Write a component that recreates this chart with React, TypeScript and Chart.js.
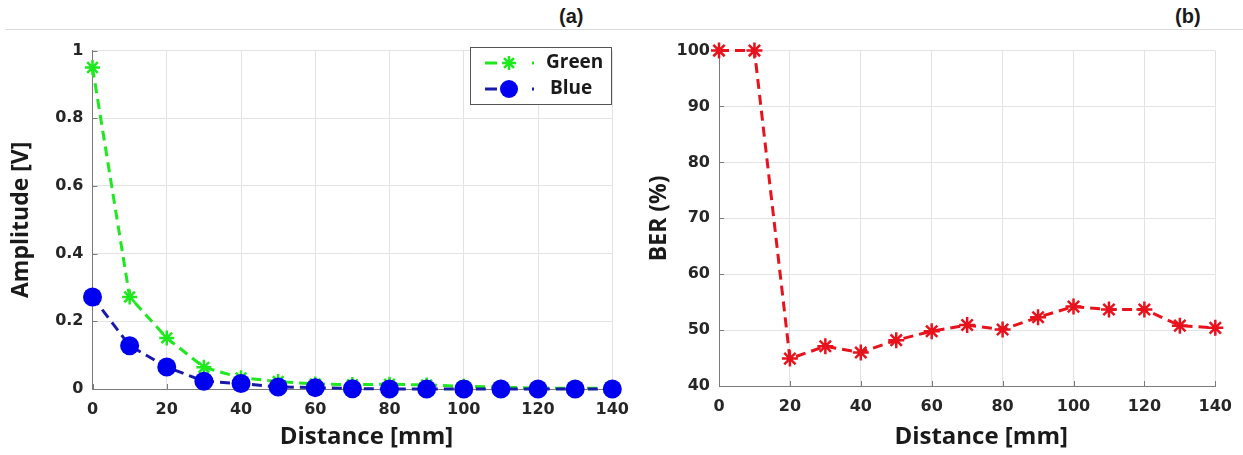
import React, { useEffect, useRef } from 'react';
import { Chart, registerables } from 'chart.js';

Chart.register(...registerables);

// ---- data ----
const distances = [0, 10, 20, 30, 40, 50, 60, 70, 80, 90, 100, 110, 120, 130, 140];
const greenAmp = [0.95, 0.272, 0.151, 0.064, 0.033, 0.022, 0.015, 0.013, 0.014, 0.012, 0.008, 0.005, 0.003, 0.002, 0.002];
const blueAmp = [0.272, 0.128, 0.065, 0.023, 0.016, 0.006, 0.004, 0.001, 0.0, 0.0, 0.0, 0.0, 0.0, 0.0, 0.0];
const berValues = [100, 100, 44.9, 47.1, 46.0, 48.2, 49.8, 50.9, 50.1, 52.3, 54.2, 53.7, 53.7, 50.8, 50.4];
const distanceTicks = [0, 20, 40, 60, 80, 100, 120, 140];
const ampTicks = [0, 0.2, 0.4, 0.6, 0.8, 1];
const berTicks = [40, 50, 60, 70, 80, 90, 100];
const legendLabels = ['Green', 'Blue'];
const xTitle = 'Distance [mm]';

const GREEN = '#1ee81e';
const BLUE_PT = '#0000f0';
const BLUE_LN = '#1a1aa8';
const RED = '#e8121c';
const TICK_FONT = { family: '"DejaVu Sans", sans-serif', size: 16, weight: 'bold' as const };
const TITLE_FONT = { family: '"Open Sans", sans-serif', size: 23, weight: 'bold' as const };

function drawStar(ctx: CanvasRenderingContext2D, x: number, y: number, r: number, color: string, lw: number) {
  ctx.save();
  ctx.strokeStyle = color;
  ctx.lineWidth = lw;
  ctx.setLineDash([]);
  ctx.beginPath();
  for (let i = 0; i < 4; i++) {
    const a = (i * Math.PI) / 4;
    ctx.moveTo(x - r * Math.cos(a), y - r * Math.sin(a));
    ctx.lineTo(x + r * Math.cos(a), y + r * Math.sin(a));
  }
  ctx.stroke();
  ctx.restore();
}

const innerTicks = {
  id: 'innerTicks',
  beforeDatasetsDraw(chart: any) {
    const ctx = chart.ctx;
    const xs = chart.scales.x;
    const ys = chart.scales.y;
    const { left, bottom } = chart.chartArea;
    ctx.save();
    ctx.strokeStyle = '#7a7a7a';
    ctx.lineWidth = 1;
    ctx.beginPath();
    xs.ticks.forEach((t: any) => {
      const px = Math.round(xs.getPixelForValue(t.value)) + 0.5;
      ctx.moveTo(px, bottom);
      ctx.lineTo(px, bottom - 5);
    });
    ys.ticks.forEach((t: any) => {
      const py = Math.round(ys.getPixelForValue(t.value)) + 0.5;
      ctx.moveTo(left, py);
      ctx.lineTo(left + 5, py);
    });
    ctx.stroke();
    ctx.restore();
  },
};

// x-axis title, drawn slightly right of the plot centre as in the original figure
const xTitlePlugin = {
  id: 'xTitle',
  afterDraw(chart: any) {
    const ctx = chart.ctx as CanvasRenderingContext2D;
    const { left, right } = chart.chartArea;
    ctx.save();
    ctx.fillStyle = '#1a1a1a';
    ctx.font = 'bold 24px "Open Sans", sans-serif';
    ctx.textAlign = 'center';
    ctx.textBaseline = 'middle';
    ctx.fillText(xTitle, (left + right) / 2 + 14, chart.height - 18);
    ctx.restore();
  },
};

const ampLegend = {
  id: 'ampLegend',
  afterDraw(chart: any) {
    const ctx = chart.ctx as CanvasRenderingContext2D;
    ctx.save();
    const bx = 470.5, by = 15.5, bw = 141, bh = 57;
    ctx.fillStyle = '#ffffff';
    ctx.fillRect(bx, by, bw, bh);
    ctx.strokeStyle = '#555555';
    ctx.lineWidth = 1;
    ctx.strokeRect(bx, by, bw, bh);
    const rows = [
      { y: 31, line: GREEN, text: legendLabels[0], tx: 546 },
      { y: 57, line: BLUE_LN, text: legendLabels[1], tx: 550 },
    ];
    rows.forEach((r, i) => {
      ctx.strokeStyle = r.line;
      ctx.lineWidth = 3;
      ctx.beginPath();
      ctx.moveTo(485, r.y);
      ctx.lineTo(497, r.y);
      ctx.moveTo(532, r.y);
      ctx.lineTo(534, r.y);
      ctx.stroke();
      if (i === 0) {
        drawStar(ctx, 509, r.y, 7, GREEN, 2.5);
      } else {
        ctx.fillStyle = BLUE_PT;
        ctx.beginPath();
        ctx.arc(509, r.y, 9, 0, Math.PI * 2);
        ctx.fill();
      }
      ctx.fillStyle = '#1a1a1a';
      ctx.font = 'bold 19px "Open Sans", sans-serif';
      ctx.textBaseline = 'middle';
      ctx.textAlign = 'left';
      ctx.fillText(r.text, r.tx, r.y);
    });
    ctx.restore();
  },
};

function axisOpts(opts: {
  ticks: number[];
  min: number;
  max: number;
  title: string | null;
  fit: number;
  titlePad: any;
  tickPad: number;
}) {
  return {
    type: 'linear' as const,
    min: opts.min,
    max: opts.max,
    afterBuildTicks: (s: any) => {
      s.ticks = opts.ticks.map((v) => ({ value: v }));
    },
    afterFit: (s: any) => {
      if (s.isHorizontal()) s.height = opts.fit;
      else s.width = opts.fit;
    },
    grid: { color: '#e3e3e3', lineWidth: 1, drawTicks: false },
    border: { color: '#7a7a7a', width: 1 },
    ticks: {
      color: '#262626',
      font: TICK_FONT,
      padding: opts.tickPad,
      callback: (v: any) => String(Math.round(Number(v) * 1000) / 1000),
    },
    title: { display: !!opts.title, text: opts.title || '', color: '#1a1a1a', font: TITLE_FONT, padding: opts.titlePad },
  };
}

function AmpChart() {
  const ref = useRef<HTMLCanvasElement>(null);
  useEffect(() => {
    const chart = new Chart(ref.current!, {
      type: 'line',
      data: {
        datasets: [
          {
            label: 'Blue',
            data: distances.map((d, i) => ({ x: d, y: blueAmp[i] })),
            borderColor: BLUE_LN,
            borderWidth: 3,
            borderDash: [10, 6],
            pointStyle: 'circle',
            pointRadius: 9.5,
            pointBackgroundColor: BLUE_PT,
            pointBorderColor: BLUE_PT,
            pointBorderWidth: 0,
            clip: false as any,
            order: 0,
          },
          {
            label: 'Green',
            data: distances.map((d, i) => ({ x: d, y: greenAmp[i] })),
            borderColor: GREEN,
            borderWidth: 3,
            borderDash: [10, 6],
            pointStyle: 'star',
            pointRadius: 7.5,
            pointBorderColor: GREEN,
            pointBackgroundColor: GREEN,
            pointBorderWidth: 2.5,
            clip: false as any,
            order: 1,
          },
        ],
      },
      options: {
        responsive: false,
        animation: false,
        events: [],
        layout: { autoPadding: false, padding: { left: 0, right: 25, top: 10, bottom: 0 } },
        plugins: { legend: { display: false }, tooltip: { enabled: false } },
        scales: {
          x: axisOpts({ ticks: distanceTicks, min: 0, max: 140, title: null, fit: 66, titlePad: 0, tickPad: 11 }),
          y: axisOpts({ ticks: ampTicks, min: 0, max: 1, title: 'Amplitude [V]', fit: 92.5, titlePad: { top: 8, bottom: 0 }, tickPad: 9 }),
        },
      },
      plugins: [innerTicks, xTitlePlugin, ampLegend],
    });
    return () => chart.destroy();
  }, []);
  return <canvas ref={ref} width={640} height={423} style={{ display: 'block' }} />;
}

function BerChart() {
  const ref = useRef<HTMLCanvasElement>(null);
  useEffect(() => {
    const chart = new Chart(ref.current!, {
      type: 'line',
      data: {
        datasets: [
          {
            label: 'BER',
            data: distances.map((d, i) => ({ x: d, y: berValues[i] })),
            borderColor: RED,
            borderWidth: 3,
            borderDash: [10, 6],
            pointStyle: 'star',
            pointRadius: 8,
            pointBorderColor: RED,
            pointBackgroundColor: RED,
            pointBorderWidth: 2.5,
            clip: false as any,
          },
        ],
      },
      options: {
        responsive: false,
        animation: false,
        events: [],
        layout: { autoPadding: false, padding: { left: 0, right: 25, top: 13, bottom: 0 } },
        plugins: { legend: { display: false }, tooltip: { enabled: false } },
        scales: {
          x: axisOpts({ ticks: distanceTicks, min: 0, max: 140, title: null, fit: 69, titlePad: 0, tickPad: 11 }),
          y: axisOpts({ ticks: berTicks, min: 40, max: 100, title: 'BER (%)', fit: 79, titlePad: { top: 6, bottom: 0 }, tickPad: 9 }),
        },
      },
      plugins: [innerTicks, xTitlePlugin],
    });
    return () => chart.destroy();
  }, []);
  return <canvas ref={ref} width={603} height={423} style={{ display: 'block' }} />;
}

export default function App() {
  const label: React.CSSProperties = {
    position: 'absolute',
    top: 5,
    font: 'bold 20px "Liberation Sans", Arial, sans-serif',
    color: '#1a1a1a',
  };
  return (
    <div style={{ position: 'absolute', left: 0, top: 0, width: 1243, height: 455, background: '#fff', overflow: 'hidden' }}>
      <div style={{ position: 'absolute', left: 5, top: 29, width: 1238, height: 0, borderTop: '1px solid #dadada' }} />
      <span style={{ ...label, left: 559 }}>(a)</span>
      <span style={{ ...label, left: 1175 }}>(b)</span>
      <div style={{ position: 'absolute', left: 0, top: 32 }}>
        <AmpChart />
      </div>
      <div style={{ position: 'absolute', left: 640, top: 32 }}>
        <BerChart />
      </div>
    </div>
  );
}
